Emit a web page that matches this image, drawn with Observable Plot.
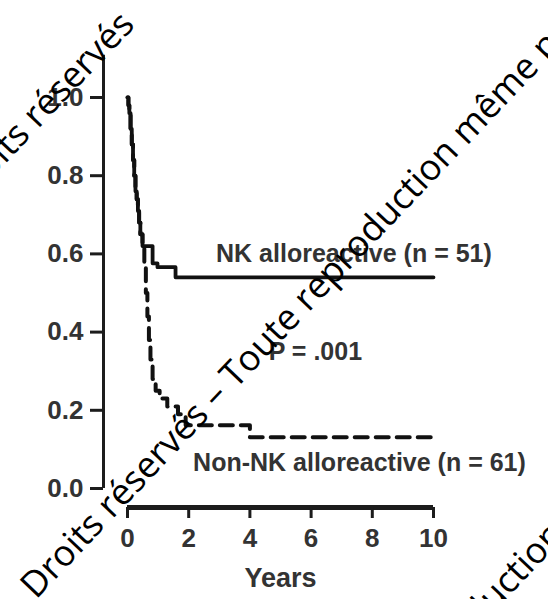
<!DOCTYPE html>
<html>
<head>
<meta charset="utf-8">
<script src="https://cdn.jsdelivr.net/npm/d3@7"></script>
<script src="https://cdn.jsdelivr.net/npm/@observablehq/plot@0.6"></script>
<style>
  html, body { margin: 0; padding: 0; background: #fff; }
  #chart svg { display: block; }
</style>
</head>
<body>
<div id="chart"></div>
<script>
// Kaplan–Meier steps (years, survival probability)
const nkYears = [0, 0.03, 0.06, 0.1, 0.14, 0.18, 0.22, 0.26, 0.3, 0.34, 0.38, 0.42, 0.49, 0.82, 0.98, 1.57, 10];
const nkSurv  = [1.0, 0.98, 0.96, 0.92, 0.88, 0.84, 0.80, 0.76, 0.74, 0.71, 0.68, 0.65, 0.62, 0.576, 0.566, 0.54, 0.54];

const nonNkYears = [0, 0.03, 0.06, 0.1, 0.14, 0.18, 0.22, 0.26, 0.3, 0.34, 0.38, 0.42, 0.49, 0.55, 0.6, 0.65, 0.7, 0.75, 0.82, 0.92, 1.05, 1.3, 1.65, 1.9, 4.0, 10];
const nonNkSurv  = [1.0, 0.98, 0.96, 0.92, 0.88, 0.84, 0.80, 0.76, 0.74, 0.71, 0.68, 0.65, 0.62, 0.57, 0.50, 0.44, 0.38, 0.33, 0.28, 0.25, 0.23, 0.21, 0.19, 0.162, 0.131, 0.131];

const xTicks = [0, 2, 4, 6, 8, 10];
const yTicks = [0, 0.2, 0.4, 0.6, 0.8, 1.0];

const nkLabel = "NK alloreactive (n = 51)";
const nonNkLabel = "Non-NK alloreactive (n = 61)";
const pLabel = "P = .001";
const xLabel = "Years";
const watermark = "Droits réservés – Toute reproduction même partielle interdite";
const watermarkShort = "Droits réservés";

const nk = nkYears.map((t, i) => ({t, s: nkSurv[i]}));
const nonNk = nonNkYears.map((t, i) => ({t, s: nonNkSurv[i]}));

const ink = "#1c1c1c";
const txt = "#333333";

const chart = Plot.plot({
  width: 548,
  height: 599,
  marginLeft: 127,
  marginRight: 115,
  marginTop: 55,
  marginBottom: 111,
  x: {domain: [0, 10], range: [127, 433]},
  y: {domain: [0, 1], range: [488, 97]},
  style: {fontFamily: "'Liberation Sans', Arial, sans-serif", fontWeight: "bold", color: txt, background: "#fff"},
  marks: [
    // offset axis lines
    Plot.ruleX([0], {y1: 0, y2: 1.108, dx: -24, stroke: ink, strokeWidth: 3}),
    Plot.ruleY([0], {x1: 0, x2: 10, dy: 19, stroke: ink, strokeWidth: 5}),
    Plot.axisY(yTicks, {dx: -24, tickSize: 13, tickPadding: 7, tickFormat: d => d.toFixed(1), fontSize: 26, strokeWidth: 3, stroke: ink, fill: txt, label: null}),
    Plot.axisX(xTicks, {dy: 19, tickSize: 11, tickPadding: 10, fontSize: 26, strokeWidth: 3, stroke: ink, fill: txt, label: null}),
    Plot.text([xLabel], {x: 5, y: 0, dy: 90, fontSize: 27, fontWeight: "bold", fill: txt}),
    // survival curves
    Plot.line(nk, {x: "t", y: "s", curve: "step-after", stroke: "#111", strokeWidth: 3.8}),
    Plot.line(nonNk, {x: "t", y: "s", curve: "step-after", stroke: "#111", strokeWidth: 4, strokeDasharray: "13,8"}),
    // annotations
    Plot.text([nkLabel], {x: 7.4, y: 0.601, fontSize: 25, fontWeight: "bold", fill: txt}),
    Plot.text([pLabel], {x: 6.14, y: 0.349, fontSize: 25, fontWeight: "bold", fill: txt}),
    Plot.text([nonNkLabel], {x: 7.58, y: 0.065, fontSize: 25, fontWeight: "bold", fill: txt})
  ]
});

document.getElementById("chart").appendChild(chart);

// diagonal watermark overlay (tiled lines of the same text)
const svg = d3.select(chart);
const wm = svg.append("g")
  .attr("font-family", "'Open Sans', 'Noto Sans', sans-serif")
  .attr("font-size", 36)
  .attr("font-weight", "normal")
  .attr("text-anchor", "start")
  .attr("fill", "#000");
const angle = -46.5;
const rad = angle * Math.PI / 180;
function prefixLength(prefix) {
  const t = wm.append("text").text(prefix);
  const L = t.node().getComputedTextLength();
  t.remove();
  return L;
}
// place a line of watermark so that the given prefix ends at (ex, ey)
function placeLine(str, prefix, ex, ey) {
  const L = prefix ? prefixLength(prefix) : 0;
  const sx = ex - L * Math.cos(rad), sy = ey - L * Math.sin(rad);
  wm.append("text").attr("transform", `translate(${sx},${sy}) rotate(${angle})`).text(str);
}
placeLine(watermark, "", 36, 600);
placeLine(watermarkShort, watermarkShort, 136, 26);
placeLine(watermark, "Droits réservés – Toute reproduction", 566, 536);
</script>
</body>
</html>
